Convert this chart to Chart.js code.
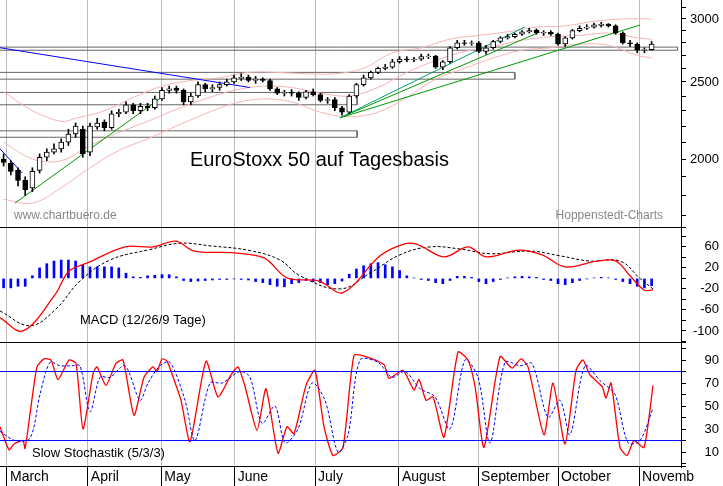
<!DOCTYPE html>
<html><head><meta charset="utf-8">
<script src="https://cdn.jsdelivr.net/npm/chart.js@4.4.1/dist/chart.umd.min.js"></script>
<style>
html,body{margin:0;padding:0;background:#fff;width:723px;height:486px;overflow:hidden}
.c{position:absolute;left:0}
</style></head><body>
<div class="c" style="top:0;width:723px;height:228px"><canvas id="c1"></canvas></div>
<div class="c" style="top:228px;width:723px;height:115px"><canvas id="c2"></canvas></div>
<div class="c" style="top:343px;width:723px;height:143px"><canvas id="c3"></canvas></div>
<script>
// ---- data ----
const months = ['March','April','May','June','July','August','September','October','Novemb'];
const monthPos = [0.47,11.7,21.9,32.1,43.25,54.9,65.9,77,88.25];
const opens = [2000,1975,1935,1880,1840,1935,2010,2040,2060,2100,2150,2180,2040,2195,2225,2190,2280,2290,2340,2300,2330,2320,2380,2440,2455,2440,2360,2400,2480,2450,2460,2480,2500,2525,2535,2510,2520,2510,2450,2420,2425,2420,2390,2430,2410,2370,2375,2320,2290,2400,2480,2530,2570,2600,2610,2650,2670,2665,2670,2690,2695,2610,2650,2760,2800,2795,2800,2730,2760,2810,2840,2850,2870,2890,2905,2880,2885,2870,2790,2840,2900,2920,2930,2945,2955,2940,2880,2800,2790,2740,2745];
const closes = [1980,1930,1880,1830,1930,2010,2040,2060,2100,2150,2200,2030,2200,2220,2190,2280,2290,2340,2300,2330,2320,2380,2440,2450,2440,2360,2400,2480,2450,2460,2480,2500,2530,2535,2510,2520,2510,2450,2420,2425,2420,2390,2430,2410,2370,2375,2320,2290,2400,2480,2530,2570,2600,2610,2650,2670,2665,2670,2690,2695,2610,2650,2760,2800,2795,2800,2730,2760,2810,2840,2850,2870,2890,2900,2880,2885,2870,2790,2840,2900,2920,2930,2950,2955,2940,2880,2800,2790,2740,2745,2790];
const highs = [2030,1990,1950,1900,1950,2030,2060,2090,2120,2180,2220,2200,2220,2250,2240,2300,2310,2360,2350,2350,2350,2400,2460,2470,2470,2450,2420,2500,2490,2480,2500,2520,2550,2560,2550,2540,2530,2520,2460,2440,2445,2430,2440,2450,2420,2390,2390,2330,2410,2490,2550,2580,2610,2630,2670,2690,2690,2685,2710,2710,2700,2660,2770,2820,2820,2815,2810,2780,2820,2850,2870,2880,2900,2920,2915,2900,2900,2880,2850,2910,2940,2950,2965,2970,2960,2950,2890,2820,2800,2760,2810];
const lows = [1960,1910,1850,1800,1820,1920,1990,2030,2040,2080,2130,2010,2020,2180,2170,2180,2260,2280,2280,2280,2300,2310,2370,2420,2420,2340,2340,2390,2430,2430,2440,2470,2490,2510,2500,2490,2500,2440,2410,2400,2400,2370,2380,2400,2360,2350,2300,2270,2280,2390,2470,2520,2560,2590,2600,2640,2650,2650,2660,2675,2600,2590,2640,2750,2780,2780,2720,2710,2750,2800,2830,2840,2860,2880,2870,2860,2860,2780,2770,2830,2890,2910,2920,2930,2930,2870,2790,2770,2720,2720,2740];
const bandIdx = [0,4,8,10,14,18,22,26,30,34,38,42,46,50,54,58,62,66,70,74,78,82,86,90];
const bandUpper = [2430,2300,2230,2250,2300,2390,2470,2510,2530,2570,2570,2560,2560,2600,2720,2760,2830,2860,2890,2930,2940,2980,3000,3000];
const bandLowIdx = [0,4,8,12,16,20,24,28,32,36,40,44,48,52,56,60,64,68,72,76,80,84,88,90];
const bandLower = [1780,1760,1840,1950,2050,2120,2200,2280,2350,2380,2360,2290,2260,2290,2390,2520,2600,2680,2740,2760,2790,2780,2700,2680];
const bandMiddle = [2100,2000,1990,2080,2160,2230,2310,2380,2440,2470,2460,2420,2400,2460,2570,2660,2730,2770,2820,2850,2860,2880,2840,2830];
const macdX = [0,23,55,69,88,125,153,176,194,231,264,287,319,343,380,403,417,444,468,486,519,542,565,597,616,630,644,653];
const macdV = [-75,-100,-31,14,30,60,60,71,52,49,39,1,-5,-27,43,65,65,41,60,41,54,45,22,33,33,5,-22,-22];
const sigX = [0,30,55,80,110,150,180,210,250,280,300,340,370,400,430,460,490,530,560,590,620,640,653];
const sigV = [-62,-90,-60,-5,35,55,67,62,53,35,5,-20,10,45,60,56,47,52,43,33,33,0,-20];
const macdHist = [-18,-18,-15,-15,5,20,28,33,35,35,33,25,22,22,22,22,20,10,3,2,5,6,7,7,3,-4,-6,-5,-4,-3,-2,-2,-1,-2,-3,-6,-8,-12,-15,-16,-10,-8,-4,-6,-8,-12,-10,-5,8,18,24,28,30,26,22,15,5,1,-2,-4,-8,-10,-4,4,4,2,-6,-10,-6,-2,1,3,4,3,2,-2,-4,-10,-12,-8,-4,-1,1,2,1,-2,-6,-10,-15,-18,-14];
const kX = [0,9,14,23,25,30,37,44,51,58,69,76,83,93,97,106,116,123,134,144,153,157,162,167,174,181,190,206,218,231,238,245,257,266,278,287,294,306,315,324,333,343,354,366,384,389,403,414,419,426,433,444,458,468,475,484,500,512,521,528,544,553,565,576,583,590,602,606,611,620,627,634,644,653];
const kV = [32,12,17,20,13,43,84,91,90,73,90,87,30,78,84,68,87,90,42,75,84,80,91,89,73,55,19,89,58,77,84,67,29,65,9,32,26,68,81,32,7,14,94,93,86,74,81,64,73,55,58,23,97,90,67,14,93,83,91,84,25,70,17,81,90,77,67,57,70,14,7,20,14,68];
const dX = [0,15,30,40,50,60,72,80,90,100,110,125,140,148,160,170,185,195,210,222,240,250,262,275,285,298,312,325,338,348,360,378,392,405,420,435,450,465,478,490,505,520,532,548,560,570,585,600,615,628,640,653];
const dV = [28,20,22,60,88,85,85,85,45,75,75,85,55,70,85,88,55,20,70,70,80,75,35,50,18,30,70,55,10,25,90,88,75,80,65,58,30,90,75,18,88,85,87,40,55,25,85,72,60,18,20,48];
const boxes = [[2740,2765,93.6],[2520,2570,71.0],[2340,2425,49.1],[2130,2170,49.1]];
const mainLabels = [2000,2500,3000];
const macdLabels = [60,20,-20,-60,-100];
const stochLabels = [90,70,50,30,10];
const FONT = "'Liberation Sans', Arial, sans-serif";
const XMIN=-0.5, XMAX=94.08;
const px2i = p => p/7.2 - 0.5;

const xScale = (show) => ({type:'linear',min:XMIN,max:XMAX,display:true,offset:false,
  afterBuildTicks:s=>{s.ticks=monthPos.map(v=>({value:v}));},
  ticks:{display:false},
  border:{display:false},
  grid:{offset:false,color:'#bbb',lineWidth:1,tickLength:show?19:0,drawTicks:show,tickColor:'#000',borderDash:[4,4]},
  afterFit:s=>{s.height=show?19:0;}
});
const yRight = (min,max,type,step) => ({type:type,position:'right',min:min,max:max,
  afterBuildTicks:s=>{const t=[];let v=Math.ceil(min/step)*step;for(;v<=max;v+=step)t.push({value:v});s.ticks=t;},
  ticks:{display:false},
  grid:{drawOnChartArea:false,drawTicks:true,tickLength:5,color:'#000'},
  border:{display:true,color:'#000'},
  afterFit:s=>{s.width=42;}
});
const labelPlugin = (vals) => ({id:'ylab',afterDraw(c){const ctx=c.ctx,s=c.scales.y;ctx.save();
  ctx.font='13px '+FONT;ctx.fillStyle='#000';ctx.textAlign='right';ctx.textBaseline='middle';
  vals.forEach(v=>ctx.fillText(String(v),719,s.getPixelForValue(v)));ctx.restore();}});
const textPlugin = (items, sep) => ({id:'txt',afterDraw(c){const ctx=c.ctx;ctx.save();
  items.forEach(t=>{ctx.font=t.f;ctx.fillStyle=t.c;ctx.textAlign=t.a||'left';ctx.textBaseline='middle';ctx.fillText(t.s,t.x,t.y);});
  if(sep){ctx.strokeStyle='#000';ctx.lineWidth=1;ctx.beginPath();ctx.moveTo(0,c.chartArea.bottom-0.5);ctx.lineTo(c.chartArea.right+5,c.chartArea.bottom-0.5);ctx.stroke();}
  ctx.restore();}});

// ---- chart 1 ----
const wick = closes.map((c,i)=>({x:i,y:[lows[i],highs[i]]}));
const body = closes.map((c,i)=>({x:i,y:[opens[i],c]}));
const bodyCol = closes.map((c,i)=> c>=opens[i]?'#fff':'#000');
const ds1 = [];
boxes.forEach(b=>ds1.push({type:'line',data:[{x:XMIN,y:b[1]},{x:b[2],y:b[1]},{x:b[2],y:b[0]},{x:XMIN,y:b[0]}],borderColor:'#666',borderWidth:1,pointRadius:0,fill:false,order:5}));
const line = (pts,col,w)=>({type:'line',data:pts,borderColor:col,borderWidth:w||1,pointRadius:0,fill:false,tension:0.35,order:4});
ds1.push(line(bandIdx.map((v,k)=>({x:v,y:bandUpper[k]})),'#f5b5b5'));
ds1.push(line(bandLowIdx.map((v,k)=>({x:v,y:bandLower[k]})),'#f5b5b5'));
ds1.push(line(bandLowIdx.map((v,k)=>({x:v,y:bandMiddle[k]})),'#f5b5b5'));
const tl = (pts,col)=>({type:'line',data:pts,borderColor:col,borderWidth:1,pointRadius:0,fill:false,tension:0,order:3});
ds1.push(tl([{x:XMIN,y:2760},{x:34.2,y:2460}],'#0000ff'));
ds1.push(tl([{x:XMIN,y:2060},{x:2.6,y:1920}],'#0000ff'));
ds1.push(tl([{x:1.6,y:1761},{x:22.4,y:2407}],'#009900'));
ds1.push(tl([{x:46.7,y:2253},{x:72.4,y:2931}],'#00a070'));
ds1.push(tl([{x:46.7,y:2253},{x:74.5,y:2889}],'#009900'));
ds1.push(tl([{x:46.7,y:2253},{x:88.4,y:2948}],'#009900'));
ds1.push({type:'bar',data:wick,backgroundColor:'#000',barThickness:1,grouped:false,order:2});
ds1.push({type:'bar',data:body,backgroundColor:bodyCol,borderColor:'#000',borderWidth:1,borderSkipped:false,barThickness:5,grouped:false,order:1});

const common = {responsive:true,maintainAspectRatio:false,animation:false,layout:{padding:0},
  plugins:{legend:{display:false},tooltip:{enabled:false}}};

new Chart(document.getElementById('c1'),{type:'bar',data:{datasets:ds1},
  options:{...common,scales:{x:xScale(false),y:yRight(1638,3169,'logarithmic',100)}},
  plugins:[labelPlugin(mainLabels),textPlugin([
    {s:'EuroStoxx 50 auf Tagesbasis',x:190,y:160,f:'20px '+FONT,c:'#000'},
    {s:'www.chartbuero.de',x:14,y:216,f:'12px '+FONT,c:'#888'},
    {s:'Hoppenstedt-Charts',x:663,y:216,f:'12px '+FONT,c:'#888',a:'right'}],true)]});

// ---- chart 2 ----
new Chart(document.getElementById('c2'),{type:'bar',data:{datasets:[
  {type:'line',data:macdX.map((p,k)=>({x:px2i(p),y:macdV[k]})),borderColor:'#ff0000',borderWidth:1.3,pointRadius:0,tension:0.35,order:1},
  {type:'line',data:sigX.map((p,k)=>({x:px2i(p),y:sigV[k]})),borderColor:'#000',borderWidth:1,borderDash:[3,2],pointRadius:0,tension:0.4,order:2},
  {type:'bar',data:macdHist.map((v,i)=>({x:i,y:[0,v]})),backgroundColor:'#0000ff',barThickness:2,order:3}
]},options:{...common,scales:{x:xScale(false),y:yRight(-123,96,'linear',20)}},
  plugins:[labelPlugin(macdLabels),textPlugin([{s:'MACD (12/26/9 Tage)',x:80,y:320-228,f:'13px '+FONT,c:'#000'}],true)]});

// ---- chart 3 ----
new Chart(document.getElementById('c3'),{type:'line',data:{datasets:[
  {data:[{x:XMIN,y:80},{x:XMAX,y:80}],borderColor:'#0000ff',borderWidth:1,pointRadius:0},
  {data:[{x:XMIN,y:20},{x:XMAX,y:20}],borderColor:'#0000ff',borderWidth:1,pointRadius:0},
  {data:dX.map((p,k)=>({x:px2i(p),y:dV[k]})),borderColor:'#0000ff',borderWidth:1,borderDash:[3,2],pointRadius:0,tension:0.3},
  {data:kX.map((p,k)=>({x:px2i(p),y:kV[k]})),borderColor:'#ff0000',borderWidth:1.3,pointRadius:0,tension:0.2}
]},options:{...common,scales:{x:xScale(true),y:yRight(-3,104.8,'linear',10)}},
  plugins:[labelPlugin(stochLabels),textPlugin([{s:'Slow Stochastik (5/3/3)',x:32,y:453-343,f:'13px '+FONT,c:'#000'}],true),
   {id:'months',afterDraw(c){const ctx=c.ctx,s=c.scales.x;ctx.save();ctx.font='14px '+FONT;ctx.fillStyle='#000';ctx.textBaseline='middle';
     months.forEach((m,k)=>ctx.fillText(m,s.getPixelForValue(monthPos[k])+3,c.chartArea.bottom+10));ctx.restore();}}]});
</script></body></html>
